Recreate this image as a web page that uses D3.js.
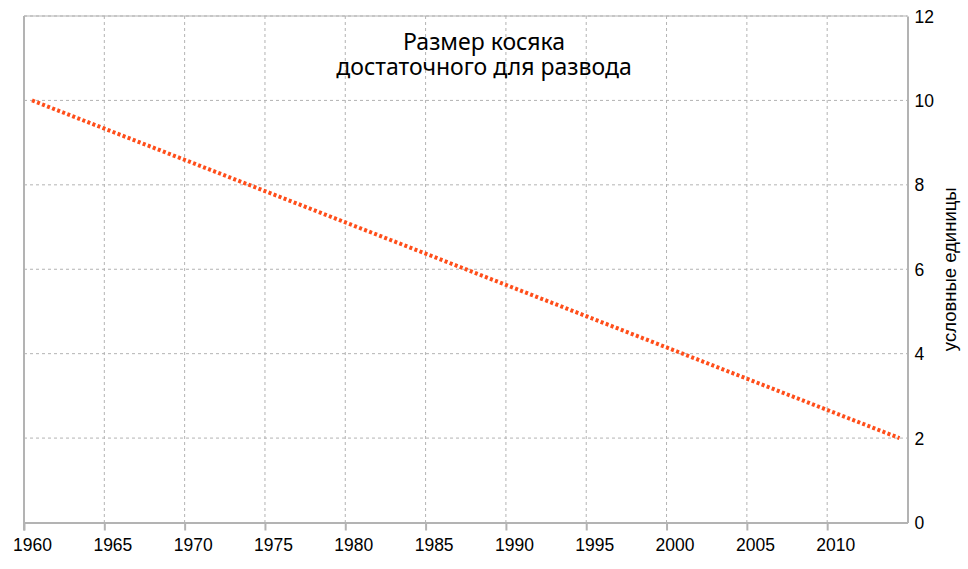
<!DOCTYPE html>
<html><head><meta charset="utf-8">
<script src="https://cdn.jsdelivr.net/npm/d3@7"></script>
<style>body{margin:0;background:#fff}svg{display:block}</style>
</head><body>
<svg id="c" width="968" height="569"></svg>
<script>
const years = [1960.5, 2014.5];
const values = [10, 2];
const xTicks = [1960, 1965, 1970, 1975, 1980, 1985, 1990, 1995, 2000, 2005, 2010];
const yTicks = [0, 2, 4, 6, 8, 10, 12];
const titleLines = ["Размер косяка", "достаточного для развода"];
const yLabel = "условные единицы";

const svg = d3.select("#c");
const L = 24, R = 907.5, T = 16, B = 522.5;
const x = d3.scaleLinear().domain([1960, 2015]).range([L, R]);
const y = d3.scaleLinear().domain([0, 12]).range([B, T]);
const font = "'Liberation Sans', Arial, sans-serif";

// grid
svg.append("g").selectAll("line").data(xTicks.slice(1)).join("line")
  .attr("x1", d => x(d)).attr("x2", d => x(d)).attr("y1", T).attr("y2", B)
  .attr("stroke", "#b3b3b3").attr("stroke-width", 1).attr("stroke-dasharray", "3,3");
svg.append("g").selectAll("line").data(yTicks.slice(1)).join("line")
  .attr("x1", L).attr("x2", R).attr("y1", d => y(d)).attr("y2", d => y(d))
  .attr("stroke", "#b3b3b3").attr("stroke-width", 1).attr("stroke-dasharray", "3,3");

// axes
const xa = svg.append("g").attr("transform", `translate(0,${B})`)
  .call(d3.axisBottom(x).tickValues(xTicks).tickFormat(d3.format("d")).tickSizeInner(8).tickSizeOuter(0).tickPadding(8));
const ya = svg.append("g").attr("transform", `translate(${R},0)`)
  .call(d3.axisRight(y).tickValues(yTicks).tickSizeInner(0).tickSizeOuter(0).tickPadding(7));
[xa, ya].forEach(g => {
  g.select(".domain").attr("stroke", "#b3b3b3").attr("stroke-width", 2);
  g.selectAll(".tick line").attr("stroke", "#b3b3b3").attr("stroke-width", 2);
  g.selectAll("text").attr("font-family", font).attr("font-size", 17.5).attr("fill", "#000");
});
// x labels centred on the middle of each year
xa.selectAll(".tick text").attr("x", x(1960.5) - x(1960));
ya.selectAll("text").attr("dy", "0.35em");
// left axis line
svg.append("line").attr("x1", L).attr("x2", L).attr("y1", T).attr("y2", B + 8)
  .attr("stroke", "#b3b3b3").attr("stroke-width", 2);
// top border
svg.append("line").attr("x1", L).attr("x2", R).attr("y1", T).attr("y2", T)
  .attr("stroke", "#b3b3b3").attr("stroke-width", 1);

// line
const line = d3.line().x((d, i) => x(years[i])).y(d => y(d));
svg.append("path").datum(values).attr("d", line)
  .attr("fill", "none").attr("stroke", "#ff4e1a").attr("stroke-width", 4)
  .attr("stroke-dasharray", "3,2.4");

// title
svg.append("g").selectAll("text").data(titleLines).join("text")
  .attr("x", 484).attr("y", (d, i) => 50 + i * 25)
  .attr("text-anchor", "middle").attr("font-family", "'Noto Sans', sans-serif")
  .attr("font-size", 23).attr("fill", "#000").text(d => d);

// y label
svg.append("text").attr("transform", `translate(956,${(T + B) / 2}) rotate(-90)`)
  .attr("text-anchor", "middle").attr("font-family", font).attr("font-size", 18.5)
  .attr("fill", "#000").text(yLabel);
</script>
</body></html>
